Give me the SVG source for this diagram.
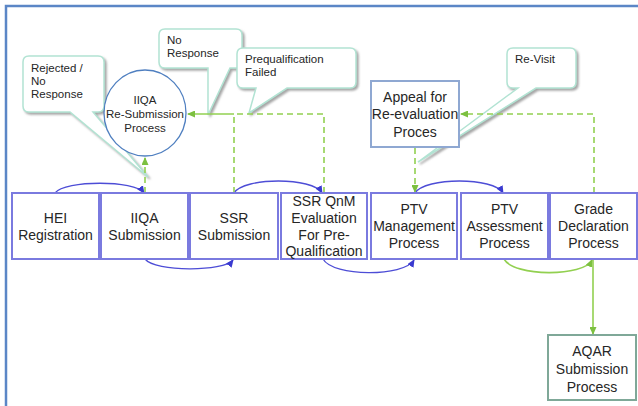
<svg xmlns="http://www.w3.org/2000/svg" width="638" height="406" viewBox="0 0 638 406">
<style>
text{font-family:"Liberation Sans",Arial,sans-serif;fill:#262626}
.t{font-size:14px;text-anchor:middle}
.s{font-size:11.5px}
.c{font-size:11.5px;text-anchor:middle}
.box{fill:#fff;stroke:#7a7adf;stroke-width:2}
.call{fill:#fff;stroke:#b2e3d3;stroke-width:1.5;filter:url(#sh)}
.blue{fill:none;stroke:#4d4dd6;stroke-width:1.3;marker-end:url(#ab)}
.green{fill:none;stroke:#92d050;stroke-width:1.6}
.dash{stroke-dasharray:6 4}
</style>
<defs>
<marker id="ab" markerUnits="userSpaceOnUse" markerWidth="8" markerHeight="7" refX="7" refY="3.5" orient="auto"><path d="M0,0 L8,3.5 L0,7 z" fill="#3a3ad0"/></marker>
<marker id="ag" markerUnits="userSpaceOnUse" markerWidth="8" markerHeight="7" refX="7" refY="3.5" orient="auto"><path d="M0,0 L8,3.5 L0,7 z" fill="#7cc040"/></marker>
<filter id="sh" x="-20%" y="-20%" width="150%" height="150%"><feDropShadow dx="2" dy="2" stdDeviation="1" flood-color="#808080" flood-opacity="0.7"/></filter>
</defs>
<rect width="638" height="406" fill="#fff"/>
<path d="M6,406 V6 H638" fill="none" stroke="#5b86c6" stroke-width="2.5"/>

<g id="callouts">
<g id="call-rejected"><path class="call" d="M29,56 H98 Q104,56 104,62 V106 Q104,112 98,112 H93 L148,177 L70,112 H29 Q23,112 23,106 V62 Q23,56 29,56 Z"/>
<text class="s" x="31" y="72">Rejected /</text><text class="s" x="31" y="85">No</text><text class="s" x="31" y="98">Response</text></g>
<g id="call-noresp"><path class="call" d="M165,29 H236 Q242,29 242,35 V62 Q242,68 236,68 H230 L208,115 L208,68 H165 Q159,68 159,62 V35 Q159,29 165,29 Z"/>
<text class="s" x="167" y="44">No</text><text class="s" x="167" y="57">Response</text></g>
<g id="call-prequal"><path class="call" d="M243,48 H350 Q356,48 356,54 V82 Q356,88 350,88 H287 L249,113 L256,88 H243 Q237,88 237,82 V54 Q237,48 243,48 Z"/>
<text class="s" x="245" y="63">Prequalification</text><text class="s" x="245" y="76">Failed</text></g>
<g id="call-revisit"><path class="call" d="M513,48 H570 Q576,48 576,54 V82 Q576,88 570,88 H536 L418,162 L518,88 H513 Q507,88 507,82 V54 Q507,48 513,48 Z"/>
<text class="s" x="515" y="63">Re-Visit</text></g>
</g>

<g id="connectors">
<path class="blue" d="M55,193 C65,180 135,180 144,193"/>
<path class="blue" d="M145,259 C155,272 224,272 233,260"/>
<path class="blue" d="M234,193 C244,177 313,177 322,193"/>
<path class="blue" d="M323,259 C333,277 404,277 414,260"/>
<path class="blue" d="M415,193 C425,177 494,177 503,193"/>
<path class="green" d="M504,259 C514,277 584,277 592,260" marker-end="url(#ag)"/>
<path class="green" d="M593,259 V334" marker-end="url(#ag)"/>
<path class="green dash" d="M145,193 V158" marker-end="url(#ag)"/>
<path class="green dash" d="M234,193 V114"/>
<path class="green" d="M234,114 H188" marker-end="url(#ag)"/>
<path class="green dash" d="M324,193 V114 H234"/>
<path class="green dash" d="M415,148 V192" marker-end="url(#ag)"/>
<path class="green dash" d="M594,193 V114 H461" marker-end="url(#ag)"/>
</g>

<g id="iiqa-resub"><ellipse cx="145" cy="113" rx="41" ry="43" fill="#fff" stroke="#4f7fc0" stroke-width="1.3"/>
<text class="c" x="145" y="104">IIQA</text><text class="c" x="145" y="118">Re-Submission</text><text class="c" x="145" y="132">Process</text></g>

<g id="appeal"><rect x="371" y="81" width="88" height="66" fill="#fff" stroke="#8fa8d2" stroke-width="2"/>
<text class="t" x="415" y="102">Appeal for</text><text class="t" x="415" y="119">Re-evaluation</text><text class="t" x="415" y="137">Proces</text></g>

<g id="hei"><rect class="box" x="12" y="193" width="87" height="66"/>
<text class="t" x="55.5" y="223">HEI</text><text class="t" x="55.5" y="240">Registration</text></g>
<g id="iiqa"><rect class="box" x="101" y="193" width="87" height="66"/>
<text class="t" x="144.5" y="223">IIQA</text><text class="t" x="144.5" y="240">Submission</text></g>
<g id="ssr"><rect class="box" x="190" y="193" width="88" height="66"/>
<text class="t" x="234" y="223">SSR</text><text class="t" x="234" y="240">Submission</text></g>
<g id="ssrqnm"><rect class="box" x="281" y="193" width="86" height="66"/>
<text class="t" x="324" y="206">SSR QnM</text><text class="t" x="324" y="223">Evaluation</text><text class="t" x="324" y="240">For Pre-</text><text class="t" x="324" y="256">Qualification</text></g>
<g id="ptvm"><rect class="box" x="371" y="193" width="86" height="66"/>
<text class="t" x="414" y="214">PTV</text><text class="t" x="414" y="231">Management</text><text class="t" x="414" y="248">Process</text></g>
<g id="ptva"><rect class="box" x="461" y="193" width="87" height="66"/>
<text class="t" x="504.5" y="214">PTV</text><text class="t" x="504.5" y="231">Assessment</text><text class="t" x="504.5" y="248">Process</text></g>
<g id="grade"><rect class="box" x="550" y="193" width="87" height="66"/>
<text class="t" x="593.5" y="214">Grade</text><text class="t" x="593.5" y="231">Declaration</text><text class="t" x="593.5" y="248">Process</text></g>
<g id="aqar"><rect x="548" y="335" width="88" height="65" fill="#fff" stroke="#7fa898" stroke-width="2"/>
<text class="t" x="592" y="356">AQAR</text><text class="t" x="592" y="374">Submission</text><text class="t" x="592" y="392">Process</text></g>
</svg>
